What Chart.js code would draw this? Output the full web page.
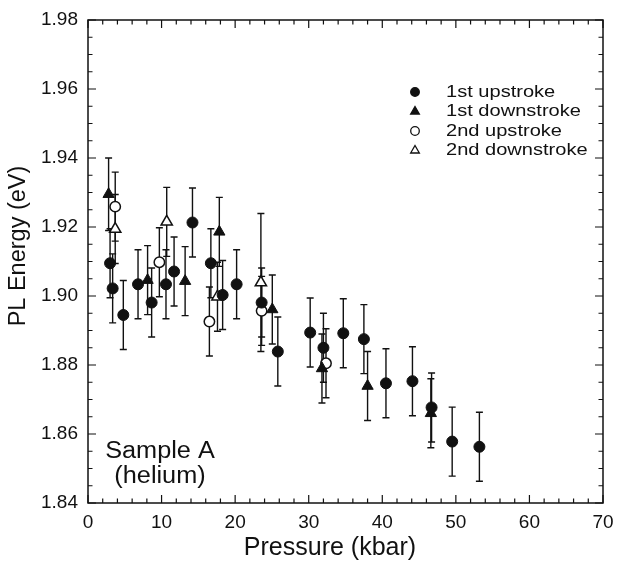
<!DOCTYPE html>
<html>
<head>
<meta charset="utf-8">
<script src="https://cdn.jsdelivr.net/npm/chart.js@4.4.1/dist/chart.umd.min.js"></script>
<style>
  html, body { margin: 0; padding: 0; background: #fff; }
  #wrap { width: 617px; height: 563px; position: relative; }
</style>
</head>
<body>
<div id="wrap"><canvas id="plChart"></canvas></div>
<script>
// PL energy vs pressure, sample A (helium)
const up1X = [3.0, 3.35, 4.8, 6.8, 8.65, 10.6, 11.7, 14.2, 16.7, 18.3, 20.2, 23.6, 25.8, 30.2, 32.0, 34.7, 37.5, 40.5, 44.1, 46.7, 49.5, 53.2];
const up1Y = [1.9095, 1.9022, 1.8945, 1.9034, 1.8981, 1.9034, 1.9071, 1.9213, 1.9095, 1.9003, 1.9034, 1.8981, 1.8839, 1.8894, 1.8850, 1.8892, 1.8875, 1.8747, 1.8753, 1.8677, 1.8578, 1.8563];
const up1Err = [0.01, 0.01, 0.01, 0.01, 0.01, 0.01, 0.01, 0.01, 0.01, 0.01, 0.01, 0.01, 0.01, 0.01, 0.01, 0.01, 0.01, 0.01, 0.01, 0.01, 0.01, 0.01];

const down1X = [2.8, 8.1, 13.2, 17.85, 25.05, 31.8, 38.0, 46.6];
const down1Y = [1.9295, 1.9046, 1.9043, 1.9186, 1.8961, 1.8790, 1.8739, 1.8660];
const down1Err = [0.0105, 0.01, 0.01, 0.01, 0.01, 0.01, 0.01, 0.01];

const up2X = [3.7, 9.7, 16.5, 23.6, 32.35];
const up2Y = [1.9259, 1.9098, 1.8926, 1.8957, 1.8805];
const up2Err = [0.01, 0.01, 0.01, 0.01, 0.01];

const down2X = [3.7, 10.7, 17.6, 23.5];
const down2Y = [1.9194, 1.9215, 1.8998, 1.9039];
const down2Err = [0.01, 0.01, 0.01, 0.02];

const seriesNames = ["1st upstroke", "1st downstroke", "2nd upstroke", "2nd downstroke"];
const xTicks = [0, 10, 20, 30, 40, 50, 60, 70];
const yTicks = [1.84, 1.86, 1.88, 1.90, 1.92, 1.94, 1.96, 1.98];
const xTickLabels = ["0", "10", "20", "30", "40", "50", "60", "70"];
const yTickLabels = ["1.84", "1.86", "1.88", "1.90", "1.92", "1.94", "1.96", "1.98"];

const errSets = [up1Err, down1Err, up2Err, down2Err];
const FONT = '"Liberation Sans", Arial, Helvetica, sans-serif';

function toPoints(xs, ys) {
    return xs.map((x, i) => ({ x: x, y: ys[i] }));
}

// text with optional horizontal stretch (the scan's lettering is wide)
function text(ctx, s, x, y, size, align, stretch) {
    const k = stretch || 1;
    ctx.save();
    ctx.font = size + "px " + FONT;
    ctx.textAlign = align || "center";
    ctx.textBaseline = "middle";
    ctx.translate(x, y);
    ctx.scale(k, 1);
    ctx.fillText(s, 0, 0);
    ctx.restore();
}

const plotExtras = {
    id: "plotExtras",
    beforeDatasetsDraw(chart) {
        const ctx = chart.ctx;
        const ys = chart.scales.y;
        ctx.save();
        ctx.strokeStyle = "#111";
        ctx.lineWidth = 1.4;
        chart.data.datasets.forEach((ds, d) => {
            const meta = chart.getDatasetMeta(d);
            ds.data.forEach((p, i) => {
                const e = errSets[d][i];
                const px = meta.data[i].x;
                const top = ys.getPixelForValue(p.y + e);
                const bot = ys.getPixelForValue(p.y - e);
                ctx.beginPath();
                ctx.moveTo(px, top); ctx.lineTo(px, bot);
                ctx.moveTo(px - 3.5, top); ctx.lineTo(px + 3.5, top);
                ctx.moveTo(px - 3.5, bot); ctx.lineTo(px + 3.5, bot);
                ctx.stroke();
            });
        });
        ctx.restore();
    },
    afterDraw(chart) {
        const ctx = chart.ctx;
        const a = chart.chartArea;
        const xs = chart.scales.x;
        const ys = chart.scales.y;
        ctx.save();
        ctx.strokeStyle = "#111";
        ctx.fillStyle = "#111";
        ctx.lineWidth = 1.5;
        ctx.strokeRect(a.left, a.top, a.right - a.left, a.bottom - a.top);

        // inward ticks on all four sides
        ctx.lineWidth = 1.2;
        ctx.beginPath();
        xs.ticks.forEach(t => {
            const px = xs.getPixelForValue(t.value);
            const len = xTicks.some(v => Math.abs(v - t.value) < 1e-6) ? 8 : 4.5;
            ctx.moveTo(px, a.bottom); ctx.lineTo(px, a.bottom - len);
            ctx.moveTo(px, a.top); ctx.lineTo(px, a.top + len);
        });
        ys.ticks.forEach(t => {
            const py = ys.getPixelForValue(t.value);
            const len = yTicks.some(v => Math.abs(v - t.value) < 1e-6) ? 8 : 4.5;
            ctx.moveTo(a.left, py); ctx.lineTo(a.left + len, py);
            ctx.moveTo(a.right, py); ctx.lineTo(a.right - len, py);
        });
        ctx.stroke();

        // tick labels
        xTicks.forEach((v, i) => text(ctx, xTickLabels[i], xs.getPixelForValue(v), a.bottom + 20, 19));
        yTicks.forEach((v, i) => text(ctx, yTickLabels[i], a.left - 10, ys.getPixelForValue(v), 19, "right"));

        // axis titles
        text(ctx, "Pressure (kbar)", 330, 548, 25);
        ctx.save();
        ctx.translate(19, 246);
        ctx.rotate(-Math.PI / 2);
        text(ctx, "PL Energy (eV)", 0, 0, 23.5);
        ctx.restore();

        // sample note
        text(ctx, "Sample A", 160, 452, 23, "center", 1.1);
        text(ctx, "(helium)", 160, 477, 23, "center", 1.1);

        // legend
        chart.data.datasets.forEach((ds, d) => {
            const ly = 92 + d * 19.5;
            ctx.save();
            ctx.fillStyle = ds.backgroundColor;
            ctx.strokeStyle = "#111";
            ctx.lineWidth = 1.3;
            Chart.helpers.drawPoint(ctx, {
                pointStyle: ds.pointStyle,
                radius: ds.pointStyle === "triangle" ? 5 : 4.3,
                borderWidth: 1.3,
                rotation: 0
            }, 415, ly);
            ctx.restore();
            text(ctx, ds.label, 446, ly, 17, "left", 1.18);
        });
        ctx.restore();
    }
};

const ctx = document.getElementById("plChart").getContext("2d");
const myChart = new Chart(ctx, {
    type: "scatter",
    data: {
        datasets: [
            { label: seriesNames[0], data: toPoints(up1X, up1Y), pointStyle: "circle", pointRadius: 5.5, backgroundColor: "#111", borderColor: "#111", borderWidth: 1 },
            { label: seriesNames[1], data: toPoints(down1X, down1Y), pointStyle: "triangle", pointRadius: 6.5, backgroundColor: "#111", borderColor: "#111", borderWidth: 1 },
            { label: seriesNames[2], data: toPoints(up2X, up2Y), pointStyle: "circle", pointRadius: 5.2, backgroundColor: "#fff", borderColor: "#111", borderWidth: 1.5 },
            { label: seriesNames[3], data: toPoints(down2X, down2Y), pointStyle: "triangle", pointRadius: 6.5, backgroundColor: "#fff", borderColor: "#111", borderWidth: 1.5 },
        ],
    },
    options: {
        responsive: true,
        maintainAspectRatio: false,
        animation: false,
        layout: {
            padding: { top: 20, right: 14, left: 0, bottom: 0 },
        },
        plugins: {
            legend: { display: false },
            tooltip: { enabled: false },
        },
        scales: {
            x: {
                type: "linear",
                min: 0,
                max: 70,
                afterFit: (scale) => { scale.height = 60; },
                ticks: { display: false, stepSize: 2, maxTicksLimit: 100 },
                grid: { display: false },
                border: { display: false },
            },
            y: {
                type: "linear",
                min: 1.84,
                max: 1.98,
                afterFit: (scale) => { scale.width = 88; },
                ticks: { display: false, stepSize: 0.005, maxTicksLimit: 100 },
                grid: { display: false },
                border: { display: false },
            },
        },
    },
    plugins: [plotExtras],
});
</script>
</body>
</html>
